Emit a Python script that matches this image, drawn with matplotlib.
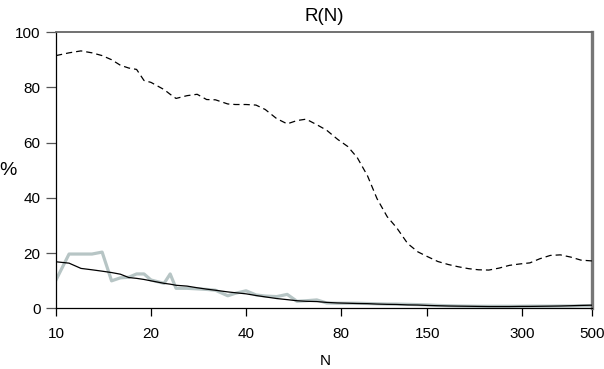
import numpy as np
import matplotlib
matplotlib.use("Agg")
import matplotlib.pyplot as plt
from matplotlib.ticker import FixedLocator, NullLocator

plt.rcParams['font.family'] = ['Liberation Sans', 'DejaVu Sans']

# N grid (log spaced sample sizes)
n_values = [10, 11, 12, 13, 14, 15, 16, 17, 18, 19, 20, 22, 23, 24, 26, 28, 30, 32, 35, 37,
            40, 43, 46, 50, 54, 58, 62, 67, 72, 78, 84, 90, 97, 104, 112, 120, 130, 140, 150, 162,
            175, 188, 203, 218, 235, 253, 273, 294, 317, 341, 368, 396, 427, 460, 500]

# dashed series
dashed = [91.5, 92.5, 93.2, 92.5, 91.5, 90.0, 88.0, 87.0, 86.5, 82.5, 81.8, 79.2, 77.5, 76.0, 77.0,
          77.5, 75.6, 75.5, 74.0, 73.8, 73.8, 73.6, 72.0, 68.7, 66.8, 68.0, 68.5, 66.5, 64.5, 61.2,
          58.6, 54.6, 48.0, 39.7, 33.2, 29.2, 23.5, 20.5, 18.8, 17.0, 15.9, 15.1, 14.4, 14.0, 13.9,
          14.6, 15.6, 16.1, 16.5, 18.0, 19.2, 19.4, 18.6, 17.5, 17.2]

# solid black series
solid = [16.9, 16.4, 14.5, 14.0, 13.5, 13.0, 12.4, 11.2, 10.9, 10.5, 10.0, 9.1, 8.8, 8.4, 8.1,
         7.5, 7.0, 6.6, 6.0, 5.7, 5.3, 4.7, 4.2, 3.6, 3.2, 2.8, 2.6, 2.5, 2.2, 2.0,
         1.9, 1.8, 1.75, 1.6, 1.5, 1.45, 1.3, 1.25, 1.1, 1.0, 0.9, 0.85, 0.8, 0.75, 0.7,
         0.7, 0.7, 0.75, 0.75, 0.8, 0.85, 0.9, 1.0, 1.1, 1.2]

# thick grey series
grey = [10.3, 19.7, 19.7, 19.7, 20.4, 10.0, 11.1, 11.3, 12.5, 12.5, 10.3, 9.1, 12.5, 7.3, 7.3,
        7.1, 6.9, 6.6, 4.6, 5.5, 6.4, 4.9, 4.5, 4.3, 5.1, 2.6, 2.8, 3.1, 2.0, 1.9,
        1.9, 1.9, 1.8, 1.7, 1.6, 1.6, 1.5, 1.4, 1.3, 1.1, 1.0, 0.9, 0.85, 0.8, 0.8,
        0.8, 0.8, 0.8, 0.85, 0.85, 0.85, 0.9, 0.9, 1.0, 1.0]

x_ticks = [10, 20, 40, 80, 150, 300, 500]
y_ticks = [0, 20, 40, 60, 80, 100]

W, H = 604, 369
fig = plt.figure(figsize=(W / 100, H / 100), dpi=100)
ax = fig.add_axes([0.0927, 0.164, 0.888, 0.749])

ax.plot(n_values, grey, color='#b7c5c5', lw=2.3, zorder=2)
ax.plot(n_values, solid, color='black', lw=0.9, zorder=3)
ax.plot(n_values, dashed, color='black', lw=0.9, linestyle=(0, (5, 3.2)), zorder=3)

ax.set_xscale('log')
ax.set_xlim(10, 500)
ax.set_ylim(0, 100)
ax.xaxis.set_major_locator(FixedLocator(x_ticks))
ax.xaxis.set_minor_locator(NullLocator())
ax.set_xticklabels([str(t) for t in x_ticks])
ax.set_yticks(y_ticks)
ax.set_yticklabels([str(t) for t in y_ticks])

ax.tick_params(axis='both', direction='out', labelsize=11, width=0.9)
ax.tick_params(axis='x', length=6, pad=7)
ax.tick_params(axis='y', length=7, pad=4, color='#555555')

for side in ['left', 'bottom']:
    ax.spines[side].set_color('black')
    ax.spines[side].set_linewidth(0.9)
ax.spines['top'].set_color('#666666')
ax.spines['top'].set_linewidth(1.3)
ax.spines['right'].set_color('#777777')
ax.spines['right'].set_linewidth(2.4)

ax.set_title('R(N)', fontsize=13.5, pad=8)
# axis labels placed in figure pixels, as in the reference
fig.text(325 / W, 1 - 361 / H, 'N', fontsize=11, ha='center', va='center')
fig.text(8 / W, 1 - 170 / H, '%', fontsize=14, ha='center', va='center')

fig.savefig('out.png', dpi=100)
